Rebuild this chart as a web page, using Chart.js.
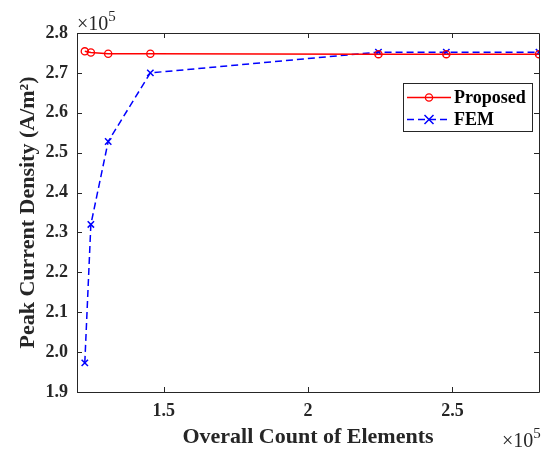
<!DOCTYPE html>
<html>
<head>
<meta charset="utf-8">
<script src="https://cdn.jsdelivr.net/npm/chart.js@4.4.1/dist/chart.umd.min.js"></script>
<style>
  html, body { margin: 0; padding: 0; background: #fff; }
  #wrap { width: 545px; height: 451px; }
</style>
</head>
<body>
<div id="wrap"><canvas id="meshChart" width="545" height="451"></canvas></div>
<script>
// values (element count, A/m^2)
const elementCounts   = [122700, 124800, 130800, 145400, 224400, 247900, 280000];
const proposedDensity = [275400, 275100, 274800, 274800, 274700, 274700, 274700];
const femDensity      = [197300, 232000, 252800, 270000, 275200, 275200, 275200];
const xTickValues = [150000, 200000, 250000];
const yTickValues = [190000, 200000, 210000, 220000, 230000, 240000, 250000, 260000, 270000, 280000];
const seriesNames = ['Proposed', 'FEM'];

const SERIF = '"Liberation Serif", "Times New Roman", serif';
const AXIS_COLOR = '#262626';

const toPoints = (ys) => elementCounts.map((x, i) => ({ x: x, y: ys[i] }));

// box around the plot, inward ticks, exponent labels and the legend
const matlabAxes = {
  id: 'matlabAxes',
  afterDraw(chart) {
    const { ctx, chartArea: a, scales } = chart;
    ctx.save();
    ctx.strokeStyle = AXIS_COLOR;
    ctx.lineWidth = 1;
    ctx.beginPath();
    ctx.rect(Math.round(a.left) + 0.5, Math.round(a.top) + 0.5,
             Math.round(a.right - a.left), Math.round(a.bottom - a.top));
    ctx.stroke();

    const tl = 5;
    ctx.beginPath();
    xTickValues.forEach(v => {
      const px = Math.round(scales.x.getPixelForValue(v)) + 0.5;
      ctx.moveTo(px, a.bottom); ctx.lineTo(px, a.bottom - tl);
      ctx.moveTo(px, a.top); ctx.lineTo(px, a.top + tl);
    });
    yTickValues.forEach(v => {
      const py = Math.round(scales.y.getPixelForValue(v)) + 0.5;
      ctx.moveTo(a.left, py); ctx.lineTo(a.left + tl, py);
      ctx.moveTo(a.right, py); ctx.lineTo(a.right - tl, py);
    });
    ctx.stroke();

    // x10^5 exponent labels
    ctx.fillStyle = AXIS_COLOR;
    ctx.textBaseline = 'alphabetic';
    ctx.textAlign = 'left';
    const expLabel = (x, y) => {
      ctx.font = '20px ' + SERIF;
      ctx.fillText('\u00d710', x, y);
      const w = ctx.measureText('\u00d710').width;
      ctx.font = '15px ' + SERIF;
      ctx.fillText('5', x + w, y - 9);
    };
    expLabel(77, 30);
    expLabel(502, 447);

    // legend
    const lx = 403, ly = 83, lw = 129, lh = 48;
    ctx.fillStyle = '#fff';
    ctx.fillRect(lx, ly, lw, lh);
    ctx.strokeStyle = AXIS_COLOR;
    ctx.strokeRect(lx + 0.5, ly + 0.5, lw, lh);
    chart.data.datasets.forEach((ds, i) => {
      const y = 97.5 + i * 22;
      ctx.strokeStyle = ds.borderColor;
      ctx.lineWidth = ds.borderWidth;
      ctx.setLineDash(ds.borderDash || []);
      ctx.beginPath();
      ctx.moveTo(407, y); ctx.lineTo(451, y);
      ctx.stroke();
      ctx.setLineDash([]);
      ctx.lineWidth = ds.pointBorderWidth;
      ctx.beginPath();
      const cx = 429, r = ds.pointRadius;
      if (ds.pointStyle === 'circle') {
        ctx.arc(cx, y, r, 0, Math.PI * 2);
      } else {
        ctx.moveTo(cx - r, y - r); ctx.lineTo(cx + r, y + r);
        ctx.moveTo(cx - r, y + r); ctx.lineTo(cx + r, y - r);
      }
      ctx.stroke();
      ctx.fillStyle = '#000';
      ctx.font = 'bold 18px ' + SERIF;
      ctx.textBaseline = 'middle';
      ctx.fillText(seriesNames[i], 454, y + 1);
    });
    ctx.restore();
  }
};

new Chart(document.getElementById('meshChart'), {
  type: 'line',
  data: {
    datasets: [
      {
        label: seriesNames[0],
        data: toPoints(proposedDensity),
        borderColor: '#ff0000',
        borderWidth: 1.5,
        pointStyle: 'circle',
        pointRadius: 3.6,
        pointBorderWidth: 1.3,
        pointBackgroundColor: 'rgba(0,0,0,0)',
        pointBorderColor: '#ff0000',
        tension: 0
      },
      {
        label: seriesNames[1],
        data: toPoints(femDensity),
        borderColor: '#0000ff',
        borderWidth: 1.5,
        borderDash: [7, 4],
        pointStyle: 'crossRot',
        pointRadius: 4.5,
        pointBorderWidth: 1.5,
        pointBorderColor: '#0000ff',
        tension: 0
      }
    ]
  },
  options: {
    responsive: false,
    animation: false,
    layout: { padding: { top: 33, right: 4, left: 0, bottom: 0 } },
    plugins: { legend: { display: false }, tooltip: { enabled: false } },
    scales: {
      x: {
        type: 'linear',
        min: 120000,
        max: 280000,
        grid: { display: false, drawTicks: false },
        border: { display: false },
        afterBuildTicks: (s) => { s.ticks = xTickValues.map(v => ({ value: v })); },
        afterFit: (s) => { s.height = 59; },
        ticks: {
          padding: 9,
          color: AXIS_COLOR,
          font: { family: SERIF, size: 18, weight: 'bold' },
          callback: (v) => String(v / 100000)
        },
        title: {
          display: true,
          text: 'Overall Count of Elements',
          color: AXIS_COLOR,
          padding: { top: 0, bottom: 0 },
          font: { family: SERIF, size: 22, weight: 'bold' }
        }
      },
      y: {
        min: 190000,
        max: 280000,
        grid: { display: false, drawTicks: false },
        border: { display: false },
        afterBuildTicks: (s) => { s.ticks = yTickValues.map(v => ({ value: v })); },
        afterFit: (s) => { s.width = 77; },
        ticks: {
          padding: 9,
          color: AXIS_COLOR,
          font: { family: SERIF, size: 18, weight: 'bold' },
          callback: (v) => (v / 100000).toFixed(1)
        },
        title: {
          display: true,
          text: 'Peak Current Density (A/m\u00b2)',
          color: AXIS_COLOR,
          padding: { top: 15, bottom: 0 },
          font: { family: SERIF, size: 22, weight: 'bold' }
        }
      }
    }
  },
  plugins: [matlabAxes]
});
</script>
</body>
</html>
